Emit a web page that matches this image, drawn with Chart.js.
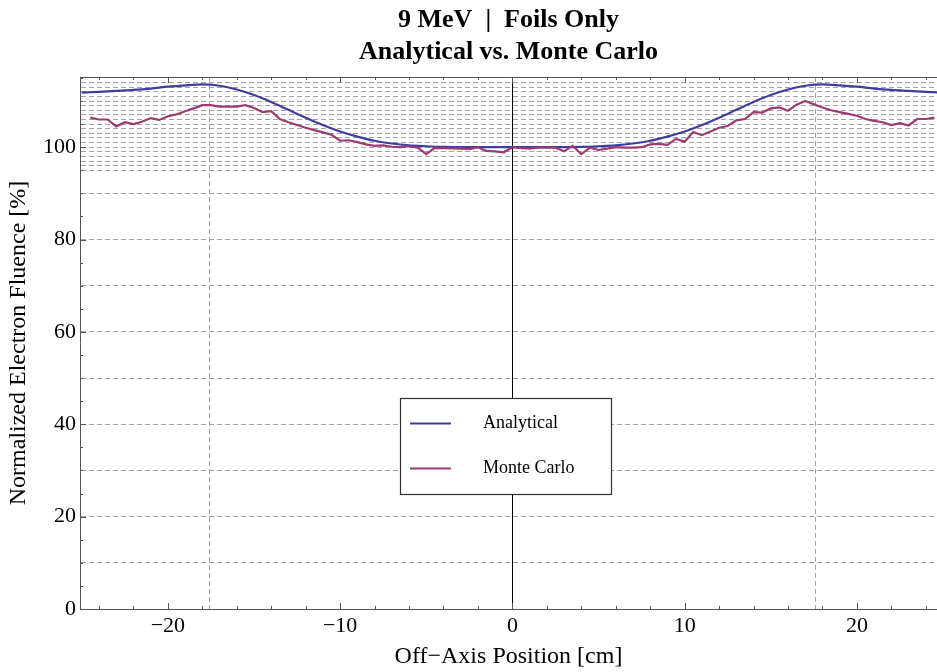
<!DOCTYPE html>
<html>
<head>
<meta charset="utf-8">
<script src="https://cdn.jsdelivr.net/npm/chart.js@4.4.1/dist/chart.umd.min.js"></script>
<style>
html, body { margin: 0; padding: 0; background: #fff; }
</style>
</head>
<body>
<canvas id="fluenceChart" width="937" height="672"></canvas>
<script>
// analytical curve, off-axis position [cm] / normalized fluence [%]
var analyticalPos = [-25,-24,-23,-22,-21,-20,-19,-18,-17,-16,-15,-14,-13,-12,-11,-10,-9,-8,-7,-6,-5,-4,
  -3,-2,-1,0,1,2,3,
  4,5,6,7,8,9,10,11,12,13,14,15,16,17,18,19,20,21,22,23,24,25];
var analyticalVal = [111.8,112.0,112.2,112.4,112.7,113.1,113.4,113.6,113.3,112.5,111.3,109.8,108.1,106.4,104.8,103.4,102.3,101.4,100.8,100.4,100.2,100.05,
  100,100,100,100,100,100,100,
  100.05,100.2,100.4,100.8,101.4,102.3,103.4,104.8,106.4,108.1,109.8,111.3,112.5,113.3,113.6,113.4,113.1,112.7,112.4,112.2,112.0,111.8];

// monte carlo result
var monteCarloPos = [-24.5,-24,-23.5,-23,-22.5,-22,-21.5,-21,-20.5,-20,-19.5,-19,-18.5,-18,-17.5,-17,-16.5,-16,-15.5,-15,
  -14.5,-14,-13.5,-13,-12.5,-12,-11.5,-11,-10.5,-10,-9.5,-9,-8.5,-8,-7.5,-7,-6.5,-6,-5.5,-5,
  -4.5,-4,-3.5,-3,-2.5,-2,-1.5,-1,-0.5,0,0.5,1,1.5,2,2.5,3,3.5,4,4.5,5,
  5.5,6,6.5,7,7.5,8,8.5,9,9.5,10,10.5,11,11.5,12,12.5,13,13.5,14,14.5,15,
  15.5,16,16.5,17,17.5,18,18.5,19,19.5,20,20.5,21,21.5,22,22.5,23,23.5,24,24.5];
var monteCarloVal = [106.4,106.0,106.0,104.5,105.4,105.0,105.5,106.3,105.9,106.7,107.1,107.8,108.4,109.1,109.1,108.8,108.8,108.8,109.1,108.5,
  107.6,107.8,106.1,105.4,104.8,104.2,103.7,103.2,102.7,101.4,101.5,101.1,100.6,100.3,100.4,100.1,100.0,100.2,99.9,98.5,
  99.85,99.8,99.75,99.7,99.6,100.0,99.2,99.1,98.9,100.0,99.8,99.7,99.9,99.9,99.9,99.1,100.3,98.5,99.9,99.4,
  99.7,100.0,99.9,99.9,100.0,100.6,100.7,100.5,101.8,101.2,103.3,102.6,103.4,104.2,104.6,105.8,106.1,107.6,107.5,108.4,
  108.6,107.9,109.2,110.0,109.3,108.6,108.0,107.6,107.2,106.8,106.1,105.7,105.4,104.8,105.2,104.7,106.1,106.1,106.4];

// axis ticks and grid
var xTickValues = [-20, -17.6, -10, 0, 10, 17.6, 20];
var xLabelValues = [-20, -10, 0, 10, 20];
var yTickValues = [0,10,20,30,40,50,60,70,80,90,95,96,97,98,99,100,101,102,103,104,105,106,107,108,109,110,111,112,113,114,115];
var yLabelValues = [0, 20, 40, 60, 80, 100];

var serif = '"Liberation Serif", "Times New Roman", Times, serif';
var blue = '#3d3da0';
var purple = '#9b3b72';
var gridGray = '#a3a3a3';
var axisGray = '#555';

function toPoints(xs, ys) {
  return xs.map(function(x, i) { return {x: x, y: ys[i]}; });
}
function fmtNum(v) {
  return v < 0 ? '\u2212' + Math.abs(v) : String(v);
}

// frame: top border plus small inward ticks like the original plot
var framePlugin = {
  id: 'frame',
  afterDraw: function(chart) {
    var c = chart.ctx, a = chart.chartArea;
    var xs = chart.scales.x, ys = chart.scales.y;
    c.save();
    c.strokeStyle = axisGray;
    c.lineWidth = 1;
    c.beginPath();
    c.moveTo(a.left, a.top + 0.5);
    c.lineTo(a.right, a.top + 0.5);
    for (var v = -24; v <= 24; v += 2) {
      var px = Math.round(xs.getPixelForValue(v)) + 0.5;
      var len = (v % 10 === 0) ? 6 : 3;
      c.moveTo(px, a.bottom); c.lineTo(px, a.bottom - len);
      c.moveTo(px, a.top); c.lineTo(px, a.top + len);
    }
    for (var w = 0; w <= 115; w += 5) {
      var py = Math.round(ys.getPixelForValue(w)) + 0.5;
      var l2 = (w % 20 === 0) ? 6 : 3;
      c.moveTo(a.left, py); c.lineTo(a.left + l2, py);
    }
    c.stroke();
    c.restore();
  }
};

// boxed legend in the middle of the plot
var boxLegendPlugin = {
  id: 'boxLegend',
  afterDraw: function(chart) {
    var c = chart.ctx;
    var bx = 400.5, by = 398.5, bw = 211, bh = 96;
    c.save();
    c.fillStyle = '#fff';
    c.fillRect(bx, by, bw, bh);
    c.strokeStyle = '#333';
    c.lineWidth = 1.2;
    c.strokeRect(bx, by, bw, bh);
    chart.data.datasets.forEach(function(ds, i) {
      var ly = 423.5 + i * 45;
      c.strokeStyle = ds.borderColor;
      c.lineWidth = 2;
      c.beginPath();
      c.moveTo(410, ly); c.lineTo(451, ly);
      c.stroke();
      c.fillStyle = '#000';
      c.font = '18px ' + serif;
      c.textBaseline = 'middle';
      c.textAlign = 'left';
      c.fillText(ds.label, 483, ly);
    });
    c.restore();
  }
};

var ctx = document.getElementById('fluenceChart').getContext('2d');
var chart = new Chart(ctx, {
  type: 'line',
  data: {
    datasets: [
      {
        label: 'Analytical',
        data: toPoints(analyticalPos, analyticalVal),
        borderColor: blue,
        borderWidth: 2.2,
        pointRadius: 0,
        cubicInterpolationMode: 'monotone',
        fill: false,
        order: 1
      },
      {
        label: 'Monte Carlo',
        data: toPoints(monteCarloPos, monteCarloVal),
        borderColor: purple,
        borderWidth: 2.2,
        pointRadius: 0,
        tension: 0,
        fill: false,
        order: 0
      }
    ]
  },
  options: {
    responsive: false,
    animation: false,
    devicePixelRatio: 1,
    layout: { padding: { left: 0, right: 0, top: 0, bottom: 0 } },
    plugins: {
      legend: { display: false },
      tooltip: { enabled: false },
      title: {
        display: true,
        fullSize: false,
        text: ['9 MeV  |  Foils Only', 'Analytical vs. Monte Carlo'],
        color: '#000',
        font: { family: serif, size: 26, weight: 'bold', lineHeight: 1.2 },
        padding: { top: 5, bottom: 9.6 }
      }
    },
    scales: {
      x: {
        type: 'linear',
        min: -25.1,
        max: 24.65,
        afterBuildTicks: function(s) {
          s.ticks = xTickValues.map(function(v) { return {value: v}; });
        },
        afterFit: function(s) { s.height = 63; },
        ticks: {
          autoSkip: false,
          maxRotation: 0,
          padding: 4,
          color: '#000',
          font: { family: serif, size: 22 },
          callback: function(v) { return xLabelValues.indexOf(v) >= 0 ? fmtNum(v) : ''; }
        },
        grid: {
          drawTicks: false,
          lineWidth: 1,
          color: function(c) {
            if (!c.tick) return gridGray;
            if (c.tick.value === 0) return '#000';
            if (Math.abs(c.tick.value) === 17.6) return gridGray;
            return 'rgba(0,0,0,0)';
          }
        },
        border: {
          color: axisGray,
          width: 1,
          dash: function(c) { return (c.tick && c.tick.value === 0) ? [] : [5, 3]; }
        },
        title: {
          display: true,
          text: 'Off\u2212Axis Position [cm]',
          color: '#000',
          font: { family: serif, size: 24 },
          padding: { top: 0, bottom: 1 }
        }
      },
      y: {
        min: 0,
        max: 115.2,
        afterBuildTicks: function(s) {
          s.ticks = yTickValues.map(function(v) { return {value: v}; });
        },
        afterFit: function(s) { s.width = 80; },
        ticks: {
          autoSkip: false,
          padding: 4,
          color: '#000',
          font: { family: serif, size: 22 },
          callback: function(v) { return yLabelValues.indexOf(v) >= 0 ? fmtNum(v) : ''; }
        },
        grid: {
          drawTicks: false,
          lineWidth: 1,
          color: function(c) {
            if (c.tick && c.tick.value === 0) return 'rgba(0,0,0,0)';
            return gridGray;
          }
        },
        border: { color: axisGray, width: 1, dash: [5, 3] },
        title: {
          display: true,
          text: 'Normalized Electron Fluence [%]',
          color: '#000',
          font: { family: serif, size: 24 },
          padding: { top: 4, bottom: 0 }
        }
      }
    }
  },
  plugins: [framePlugin, boxLegendPlugin]
});
</script>
</body>
</html>
